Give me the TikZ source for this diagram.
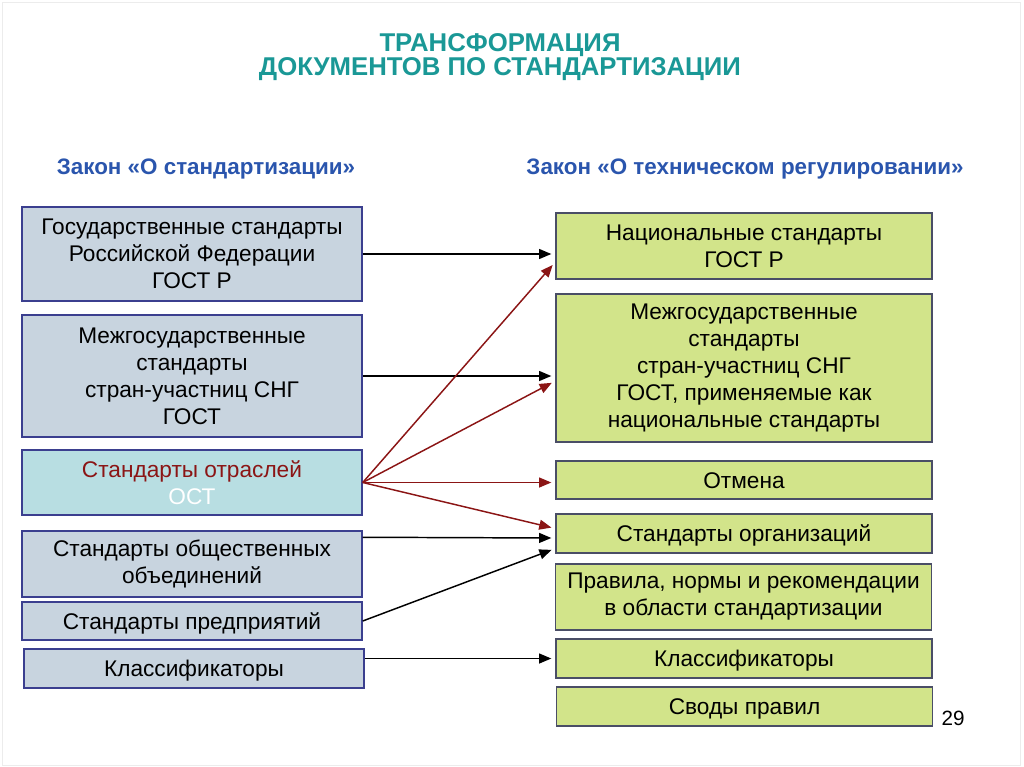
\documentclass[tikz,border=0pt]{standalone}
\usepackage{fontspec}
\setmainfont{Liberation Sans}
\usetikzlibrary{shapes,arrows,positioning,calc}
\definecolor{leftfill}{HTML}{C8D4DF}
\definecolor{leftline}{HTML}{3B3F8F}
\definecolor{ostfill}{HTML}{B8DEE2}
\definecolor{rightfill}{HTML}{D2E48A}
\definecolor{rightline}{HTML}{4A4E66}
\definecolor{redarrow}{HTML}{8B1515}
\definecolor{titleteal}{HTML}{1A9896}
\definecolor{lawblue}{HTML}{2A55AD}
\tikzstyle{lbox} = [draw=leftline, fill=leftfill, line width=1.1pt, minimum width=255pt, inner sep=0pt, align=center, font=\fontsize{17}{20.25}\selectfont]
\tikzstyle{rbox} = [draw=rightline, fill=rightfill, line width=1.1pt, minimum width=282pt, inner sep=0pt, align=center, font=\fontsize{17}{20.25}\selectfont]
\tikzstyle{onel} = [text height=12.2pt, text depth=0pt]
\tikzstyle{law} = [text=lawblue, font=\bfseries\fontsize{16.8}{18}\selectfont]
\tikzstyle{arrow} = [draw, -triangle 45, line width=1.1pt, shorten >=3pt]
\tikzstyle{redarrow} = [arrow, draw=redarrow]

\begin{document}
\begin{tikzpicture}[x=0.75pt, y=-0.75pt]
			\useasboundingbox (0,0) rectangle (1024,767);
			\draw [gray!15] (2,2) rectangle (1020,765);

			\node [text=titleteal, align=center, font=\bfseries\fontsize{19.3}{15.75}\selectfont] (title) at (500,57) {ТРАНСФОРМАЦИЯ\\ДОКУМЕНТОВ ПО СТАНДАРТИЗАЦИИ};
			\node [law] (zakon1) at (206,169) {Закон «О стандартизации»};
			\node [law] (zakon2) at (745,169) {Закон «О техническом регулировании»};

			% old law
			\node [lbox, minimum height=70.5pt] (gosr) at (192,254) {Государственные стандарты\\Российской Федерации\\ГОСТ Р};
			\node [lbox, minimum height=91.5pt] (mezh) at (192,376) {Межгосударственные\\стандарты\\стран-участниц СНГ\\ГОСТ};
			\node [lbox, fill=ostfill, minimum height=48.75pt] (otrasl) at (192,482.5) {\textcolor{redarrow}{Стандарты отраслей}\\\textcolor{white}{ОСТ}};
			\node [lbox, minimum height=49.5pt] (obsh) at (192,564) {Стандарты общественных\\объединений};
			\node [lbox, onel, minimum height=28.5pt] (predpr) at (192,621) {Стандарты предприятий};
			\node [lbox, onel, minimum height=29.25pt] (klass) at (194,668.5) {Классификаторы};

			% new law
			\node [rbox, minimum height=49.5pt] (nats) at (744,246) {Национальные стандарты\\ГОСТ Р};
			\node [rbox, minimum height=111pt] (mezh2) at (744,368) {Межгосударственные\\стандарты\\стран-участниц СНГ\\ГОСТ, применяемые как\\национальные стандарты};
			\node [rbox, onel, minimum height=28.5pt] (otmena) at (744,480) {Отмена};
			\node [rbox, onel, minimum height=29.25pt] (org) at (744,533.5) {Стандарты организаций};
			\node [rbox, minimum height=49.5pt] (pravila) at (743.5,597) {Правила, нормы и рекомендации\\в области стандартизации};
			\node [rbox, onel, minimum height=29.25pt] (klass2) at (744,658.5) {Классификаторы};
			\node [rbox, onel, minimum height=29.25pt] (svody) at (744.5,706.5) {Своды правил};
			\node [font=\fontsize{15.5}{18}\selectfont] (page) at (953,718) {29};

			\path [arrow] (gosr.east) -- (gosr.east -| nats.west);
			\path [arrow] (mezh.east) -- (mezh.east -| mezh2.west);
			\path [redarrow] (otrasl.east) -- ($(nats.west)+(0,16)$);
			\path [redarrow] (otrasl.east) -- ($(mezh2.west)+(0,13)$);
			\path [redarrow] (otrasl.east) -- (otrasl.east -| otmena.west);
			\path [redarrow] (otrasl.east) -- ($(org.west)+(0,-5)$);
			\path [arrow] ($(obsh.north east)+(0,7)$) -- ($(org.west)+(0,4.5)$);
			\path [arrow] (predpr.east) -- ($(org.west)+(0,15)$);
			\path [arrow] (klass.east |- klass2.west) -- (klass2.west);
		\end{tikzpicture}
\end{document}
